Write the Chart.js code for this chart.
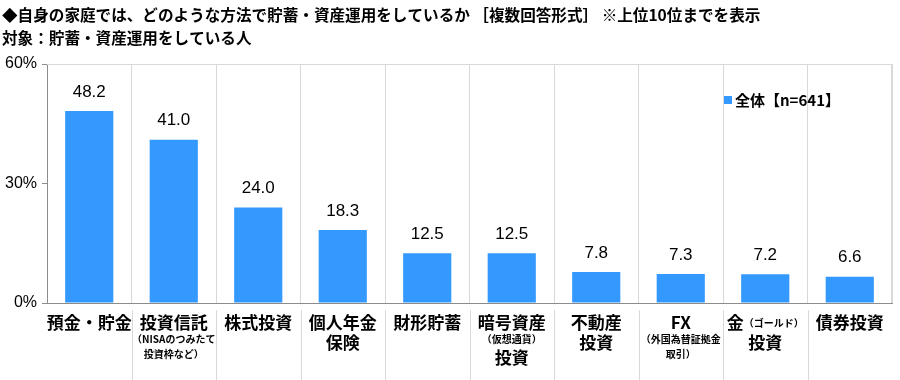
<!DOCTYPE html>
<html>
<head>
<meta charset="utf-8">
<script src="https://cdn.jsdelivr.net/npm/chart.js@4"></script>
<style>
html,body{margin:0;padding:0;background:#fff;}
#wrap{width:900px;height:380px;position:relative;}
</style>
</head>
<body>
<div id="wrap"><canvas id="c" width="900" height="380"></canvas></div>
<script>
const titleLines = [
  "◆自身の家庭では、どのような方法で貯蓄・資産運用をしているか ［複数回答形式］ ※上位10位までを表示",
  "対象：貯蓄・資産運用をしている人"
];
const categories = [
  ["預金・貯金"],
  ["投資信託", "（NISAのつみたて", "投資枠など）"],
  ["株式投資"],
  ["個人年金", "保険"],
  ["財形貯蓄"],
  ["暗号資産", "（仮想通貨）", "投資"],
  ["不動産", "投資"],
  ["FX", "（外国為替証拠金", "取引）"],
  ["金（ゴールド）", "投資"],
  ["債券投資"]
];
const seriesName = "全体【n=641】";
const values = [48.2, 41.0, 24.0, 18.3, 12.5, 12.5, 7.8, 7.3, 7.2, 6.6];
const yTicks = [0, 30, 60];

const JP = '"Noto Sans CJK JP", "Noto Sans", sans-serif';
const NUM = '"Liberation Sans", Arial, sans-serif';
const BAR = '#3399ff';

// split a label line into segments; text in full-width parentheses is small
function segments(line) {
  const out = [];
  const re = /（[^）]*）?|[^（]+|）/g;
  let m;
  while ((m = re.exec(line)) !== null) {
    const t = m[0];
    const small = t.startsWith('（') || t === '）' || /^[^（]*）$/.test(t);
    out.push({t, small});
  }
  return out;
}
function isSmallLine(line) {
  const s = segments(line);
  return s.every(x => x.small) || (line.endsWith('）') && !line.includes('（'));
}

const decor = {
  id: 'decor',
  beforeDraw(chart) {
    const ctx = chart.ctx;
    ctx.save();
    ctx.fillStyle = '#fff';
    ctx.fillRect(0, 0, chart.width, chart.height);
    ctx.restore();
  },
  afterDraw(chart) {
    const ctx = chart.ctx;
    const area = chart.chartArea;
    const xs = chart.scales.x;
    ctx.save();
    // titles
    ctx.fillStyle = '#000';
    ctx.textBaseline = 'middle';
    ctx.textAlign = 'left';
    ctx.font = 'bold 15.6px ' + JP;
    ctx.fillText(titleLines[0], 2, 15);
    ctx.fillText(titleLines[1], 2, 38);
    // top and right border
    ctx.strokeStyle = '#d9d9d9';
    ctx.lineWidth = 1;
    ctx.beginPath();
    ctx.moveTo(area.left, Math.round(area.top) + 0.5);
    ctx.lineTo(area.right, Math.round(area.top) + 0.5);
    ctx.moveTo(Math.round(area.right) - 0.5, area.top);
    ctx.lineTo(Math.round(area.right) - 0.5, area.bottom);
    ctx.stroke();
    // separators in label area
    const n = categories.length;
    ctx.strokeStyle = '#d9d9d9';
    ctx.beginPath();
    for (let i = 1; i < n; i++) {
      const x = Math.round((xs.getPixelForValue(i - 1) + xs.getPixelForValue(i)) / 2) + 0.5;
      ctx.moveTo(x, area.bottom + 7);
      ctx.lineTo(x, chart.height);
    }
    ctx.stroke();
    // category labels
    ctx.fillStyle = '#000';
    ctx.textBaseline = 'middle';
    categories.forEach((lines, i) => {
      const cx = xs.getPixelForValue(i);
      let y = area.bottom + 20;
      let prevSmall = null;
      lines.forEach((line, li) => {
        const small = isSmallLine(line);
        if (li > 0) {
          if (!prevSmall && !small) y += 20;
          else if (!prevSmall && small) y += 16;
          else if (prevSmall && small) y += 15;
          else y += 19;
        }
        const segs = segments(line);
        let total = 0;
        segs.forEach(s => {
          ctx.font = s.small ? 'bold 10px ' + JP : 'bold 17px ' + JP;
          s.w = ctx.measureText(s.t).width;
          total += s.w;
        });
        let x = cx - total / 2;
        ctx.textAlign = 'left';
        segs.forEach(s => {
          ctx.font = s.small ? 'bold 10px ' + JP : 'bold 17px ' + JP;
          ctx.fillText(s.t, x, y);
          x += s.w;
        });
        prevSmall = small;
      });
    });
    // value labels
    const meta = chart.getDatasetMeta(0);
    ctx.font = '17px ' + NUM;
    ctx.textAlign = 'center';
    meta.data.forEach((bar, i) => {
      ctx.fillText(values[i].toFixed(1), bar.x, bar.y - 19);
    });
    // legend
    ctx.fillStyle = BAR;
    ctx.fillRect(724, 96, 8, 8);
    ctx.fillStyle = '#000';
    ctx.textAlign = 'left';
    ctx.font = 'bold 15px ' + JP;
    ctx.fillText(seriesName, 735, 100);
    ctx.restore();
  }
};

new Chart(document.getElementById('c'), {
  type: 'bar',
  data: {
    labels: categories.map(c => c.join('')),
    datasets: [{
      label: seriesName,
      data: values,
      backgroundColor: BAR,
      borderWidth: 0,
      barPercentage: 0.57,
      categoryPercentage: 1.0
    }]
  },
  options: {
    responsive: false,
    animation: false,
    devicePixelRatio: 1,
    layout: { padding: { top: 64, right: 8, left: 0, bottom: 0 } },
    plugins: { legend: { display: false }, tooltip: { enabled: false }, title: { display: false } },
    scales: {
      x: {
        offset: true,
        grid: { display: true, offset: true, drawOnChartArea: true, drawTicks: false, color: '#d9d9d9' },
        border: { display: true, color: '#8c8c8c' },
        ticks: { display: false },
        afterFit(scale) { scale.height = 77; }
      },
      y: {
        min: 0, max: 60,
        afterBuildTicks(scale) { scale.ticks = yTicks.map(v => ({ value: v })); },
        ticks: {
          callback: v => v + '%',
          font: { family: NUM, size: 16 },
          color: '#000',
          padding: 5
        },
        grid: { drawOnChartArea: false, drawTicks: true, tickLength: 5, color: '#8c8c8c' },
        border: { display: true, color: '#8c8c8c' },
        afterFit(scale) { scale.width = 47; }
      }
    }
  },
  plugins: [decor]
});
</script>
</body>
</html>
